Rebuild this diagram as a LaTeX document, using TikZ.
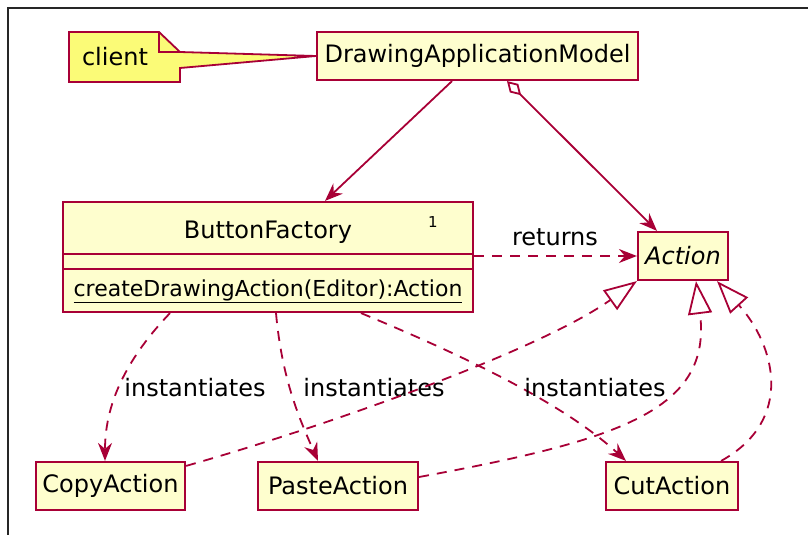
\documentclass[tikz,border=0pt]{standalone}
\usepackage{fontspec}
\setmainfont{DejaVu Sans}
\usetikzlibrary{arrows.meta}
\definecolor{umlred}{HTML}{A80036}
\definecolor{umlfill}{HTML}{FEFECE}
\definecolor{umlnote}{HTML}{FBFB77}
\begin{document}
\begin{tikzpicture}[x=1pt,y=-1pt,
    classbox/.style={draw=umlred, fill=umlfill, line width=2.2pt, inner sep=0pt,
      minimum height=48pt, font=\fontsize{24}{28}\selectfont},
    link/.style={draw=umlred, line width=1.8pt},
    dep/.style={link, dash pattern=on 10pt off 8pt},
    lbl/.style={font=\fontsize{24}{28}\selectfont, inner sep=1pt},
    head/.style={-{Stealth[length=18pt,width=14pt,inset=6pt]}},
    realize/.style={-{Triangle[length=33pt,width=24pt,fill=white]}}]

    \useasboundingbox (0,0) rectangle (808,535);
    \draw[line width=1.5pt, black!85] (808,8) -- (8,8) -- (8,535);

    % Top row
    \node[classbox, minimum width=321pt] (dam) at (477.5,56) {DrawingApplicationModel};
    \filldraw[draw=umlred, fill=umlnote, line width=1.8pt]
      (69,32) -- (159,32) -- (180,52) -- (dam.west) -- (180,68) -- (180,82) -- (69,82) -- cycle;
    \draw[umlred, line width=1.4pt] (159,32) -- (159,52) -- (180,52);
    \node[lbl] (client) at (115,57) {client};

    % Factory and interface
    \node[classbox, minimum width=410pt, minimum height=110pt] (bf) at (268,257) {};
    \draw[umlred, line width=2.2pt] (63,254) -- (473,254);
    \draw[umlred, line width=2.2pt] (63,269) -- (473,269);
    \node[lbl] (bfname) at (268,232) {ButtonFactory};
    \node[font=\fontsize{15}{16}\selectfont, inner sep=0pt] (bfmark) at (433,222) {1};
    \node[font=\fontsize{22}{26}\selectfont, inner sep=0pt] (bfop) at (268,291)
      {\underline{createDrawingAction(Editor):Action}};
    \node[classbox, minimum width=90pt, font=\fontsize{24}{28}\selectfont\itshape] (act) at (683,256) {Action};

    % Concrete actions
    \node[classbox, minimum width=149pt] (copy) at (110.5,486) {CopyAction};
    \node[classbox, minimum width=160pt] (paste) at (338,486) {PasteAction};
    \node[classbox, minimum width=132pt] (cut) at (672,486) {CutAction};

    % Associations
    \draw[link, head] ([xshift=-25.5pt]dam.south) -- ([xshift=57pt]bf.north);
    \draw[link, {Diamond[length=20pt,width=12pt,fill=white]}-{Stealth[length=18pt,width=14pt,inset=6pt]}]
      ([xshift=29.5pt]dam.south) -- ([xshift=-26pt]act.north);
    \draw[dep, head] (bf.east |- act.west) -- (act.west);
    \node[lbl] (ret) at (555,237) {returns};

    % instantiates
    \draw[dep, head] ([xshift=-98pt]bf.south) .. controls (130,355) and (105,400) .. ([xshift=-5.5pt]copy.north);
    \node[lbl] (inst1) at (195,388) {instantiates};
    \draw[dep, head] ([xshift=8pt]bf.south) .. controls (282,380) and (300,420) .. ([xshift=-20pt]paste.north);
    \node[lbl] (inst2) at (374,388) {instantiates};
    \draw[dep, head] ([xshift=93pt]bf.south) .. controls (450,350) and (560,400) .. ([xshift=-46pt]cut.north);
    \node[lbl] (inst3) at (595,388) {instantiates};

    % Realizations
    \draw[dep, realize] ([yshift=-5pt]copy.north east) .. controls (330,425) and (540,350) .. (act.south west);
    \draw[dep, realize] ([yshift=9pt]paste.east) .. controls (620,440) and (712,410) .. ([xshift=13pt]act.south);
    \draw[dep, realize] ([xshift=-18pt]cut.north east) .. controls (795,420) and (775,345) .. ([xshift=34pt]act.south);

\end{tikzpicture}
\end{document}
